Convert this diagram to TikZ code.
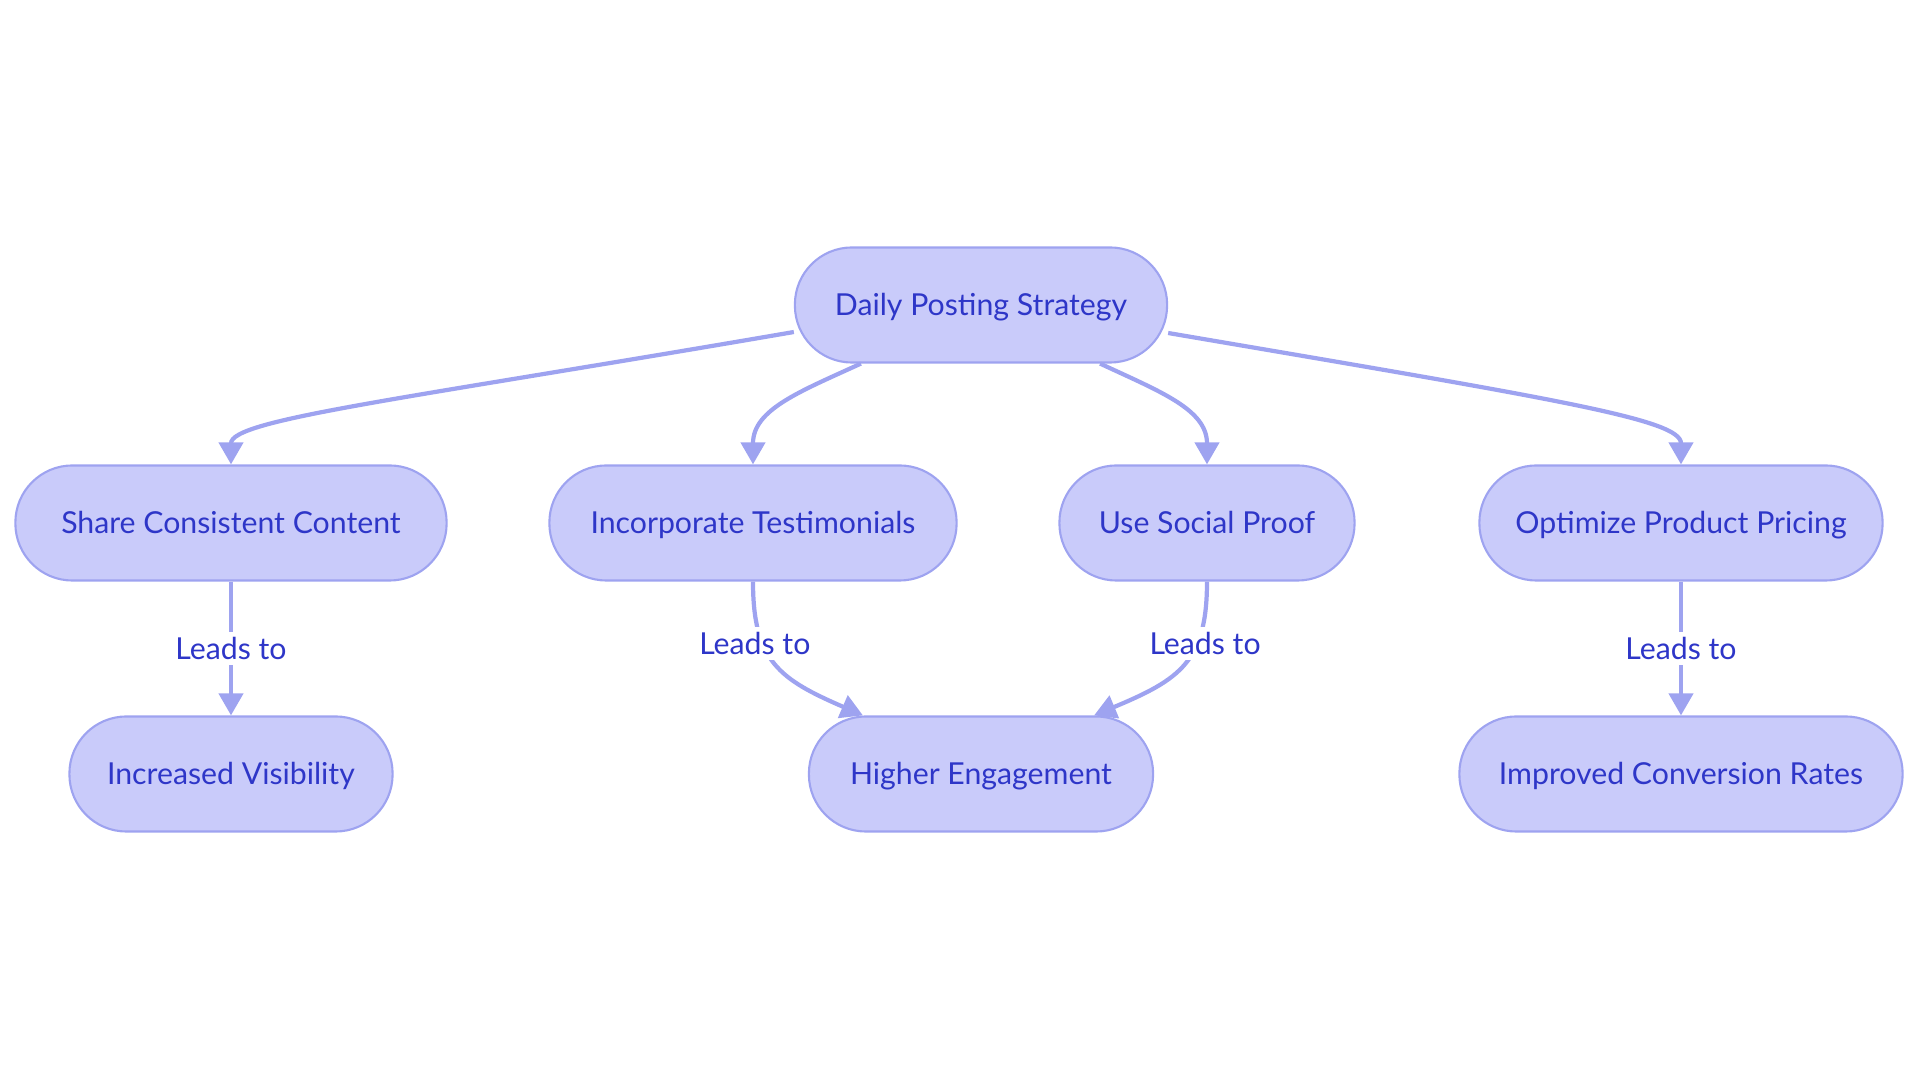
\documentclass[tikz,border=0pt]{standalone}
\usepackage{fontspec}
\setmainfont{Lato}
\usetikzlibrary{arrows.meta}
\definecolor{boxfill}{HTML}{C9CBFA}
\definecolor{boxline}{HTML}{9EA3F0}
\definecolor{boxtext}{HTML}{2E36C8}
\begin{document}
\begin{tikzpicture}[x=0.01cm,y=-0.01cm,
	box/.style={shape=rectangle,rounded corners=5.7mm,draw=boxline,fill=boxfill,line width=0.6pt,
		text=boxtext,minimum height=1.15cm,text height=1.6ex,text depth=0.45ex,font=\fontsize{8.6}{10}\selectfont},
	link/.style={draw=boxline,line width=1.2pt,-{Triangle[length=0.22cm,width=0.24cm]}},
	lbl/.style={fill=white,text=boxtext,inner sep=1.5pt,font=\fontsize{8.6}{10}\selectfont}]
	
	\useasboundingbox (0,0) rectangle (1920,1083);
	
	\node[box,minimum width=3.72cm] (daily)   at (981, 305)  {Daily Posting Strategy};
	\node[box,minimum width=4.31cm] (share)   at (231, 523)  {Share Consistent Content};
	\node[box,minimum width=4.07cm] (testim)  at (753, 523)  {Incorporate Testimonials};
	\node[box,minimum width=2.95cm] (social)  at (1207, 523) {Use Social Proof};
	\node[box,minimum width=4.03cm] (pricing) at (1681, 523) {Optimize Product Pricing};
	\node[box,minimum width=3.23cm] (visib)   at (231, 774)  {Increased Visibility};
	\node[box,minimum width=3.44cm] (engage)  at (981, 774)  {Higher Engagement};
	\node[box,minimum width=4.43cm] (conv)    at (1681, 774) {Improved Conversion Rates};
	
	\path[link] ([yshift=-2.7mm]daily.west) .. controls +(-395,68) and +(0,-45) .. (share.north);
	\path[link] ([xshift=-12mm]daily.south) .. controls +(-61,28) and +(0,-55) .. (testim.north);
	\path[link] ([xshift=11.9mm]daily.south) .. controls +(60,28) and +(0,-55) .. (social.north);
	\path[link] ([yshift=-2.8mm]daily.east) .. controls +(393,67) and +(0,-45) .. (pricing.north);
	
	\path[link] (share) -- node[lbl]{Leads to} (visib);
	\path[link] (testim.south) .. controls +(0,80) and +(-83,-36) .. node[lbl,pos=0.33,xshift=-0.8mm]{Leads to} ([xshift=-11.8mm]engage.north);
	\path[link] (social.south) .. controls +(0,80) and +(86,-36) .. node[lbl,pos=0.33,xshift=0.8mm]{Leads to} ([xshift=11.3mm]engage.north);
	\path[link] (pricing) -- node[lbl]{Leads to} (conv);
	
\end{tikzpicture}
\end{document}
